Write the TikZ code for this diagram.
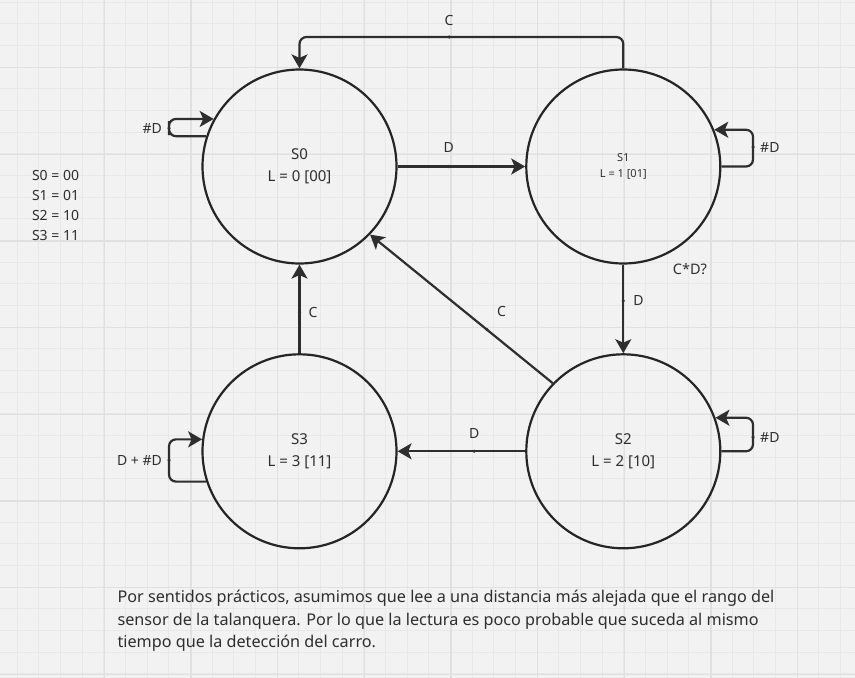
\documentclass[tikz,border=0pt]{standalone}
\usepackage{fontspec}
\setmainfont{Noto Sans}
\usetikzlibrary{positioning,arrows.meta}
\definecolor{ink}{HTML}{2E2E2E}
\definecolor{paper}{HTML}{F2F2F2}
\definecolor{gridlo}{HTML}{E8E8E8}
\definecolor{gridhi}{HTML}{E0E0E0}
\begin{document}
\begin{tikzpicture}[x=1pt,y=-1pt]
				\tikzstyle{every node}=[text=ink, font=\fontsize{14}{18}\selectfont]
				\tikzstyle{state}=[circle, draw=ink!80!black, line width=2.2pt, minimum size=194pt, inner sep=0pt, align=center, 
				font=\fontsize{15}{21.7}\selectfont]
				\tikzstyle{edge}=[draw=ink, line width=2.2pt, rounded corners=7pt, 
				-{Stealth[length=14pt,width=16pt,inset=3.5pt]}]
				\tikzstyle{pt}=[circle, fill=ink, inner sep=0pt, minimum size=3.5pt]
				\tikzstyle{lbl}=[inner sep=1pt]
				\clip (0,0) rectangle (855,678);
				\fill[paper] (0,0) rectangle (855,678);
				\foreach \i in {0,...,39} \draw[gridlo, line width=1pt] ({17.3+21.667*\i},0) -- ++(0,678);
				\foreach \j in {0,...,31} \draw[gridlo, line width=1pt] (0,{2.3+21.667*\j}) -- ++(855,0);
				\foreach \i in {0,...,9} \draw[gridhi, line width=1.3pt] ({104.3+86.667*\i},0) -- ++(0,678);
				\foreach \j in {0,...,7} \draw[gridhi, line width=1.3pt] (0,{67.7+86.667*\j}) -- ++(855,0);
				\node[state] (s0) at (299.5,166.5) {S0\\L = 0 [00]};
				\node[state, font=\fontsize{11}{15.3}\selectfont] (s1) at (623.3,166.5) {S1\\L = 1 [01]};
				\node[state] (s2) at (623.3,451.3) {S2\\L = 2 [10]};
				\node[state] (s3) at (299.5,451.3) {S3\\L = 3 [11]};
				\coordinate (c10) at (449,37); 
				\coordinate (l0) at (169,128); 
				\coordinate (l1) at (753,147); 
				\coordinate (l2) at (753,437); 
				\coordinate (l3) at (169,460); 
				\draw[edge] (s1.north) |- (c10) -| (s0.north);
				\draw[edge] (s0) -- node[pt, pos=.4] (d01) {} (s1);
				\draw[edge] (s1) -- node[pt, pos=.41] (d12) {} (s2);
				\draw[edge] (s2) -- node[pt, pos=.4] (d23) {} (s3);
				\draw[edge] (s3) -- node[pt, pos=.46] (d30) {} (s0);
				\draw[edge] (s2.136) -- node[pt, pos=.36] (d20) {} (s0.-44);
				\draw[edge] (s0.162) -| (l0) |- (s0.151);
				\draw[edge] (s1.east) -| (l1) |- (s1.22);
				\draw[edge] (s2.east) -| (l2) |- (s2.20);
				\draw[edge] (s3.198) -| (l3) |- (s3.173);
				\foreach \p in {c10,l0,l1,l2,l3} \node[pt] at (\p) {};
				\node[lbl, above=10pt of c10] {C};
				\node[lbl, above=10pt of d01] {D};
				\node[lbl, right=6pt of d12] {D};
				\node[lbl, above=9pt of d23] {D};
				\node[lbl, right=5pt of d30] {C};
				\node[lbl, above right=10pt and 7pt of d20] {C};
				\node[lbl, left=6pt of l0] {\#D};
				\node[lbl, right=6pt of l1] {\#D};
				\node[lbl, right=6pt of l2] {\#D};
				\node[lbl, left=6pt of l3] {D + \#D};
				\node[font=\fontsize{14.5}{18}\selectfont] (cd) at (690,269) {C*D?};
				\node[anchor=west, align=left, font=\fontsize{14}{19.7}\selectfont] (codes) at (28.5,205.5) 
				{S0 = 00\\S1 = 01\\S2 = 10\\S3 = 11};
				\node[anchor=west, align=left, font=\fontsize{16.2}{22.5}\selectfont] (note) at (114,621) 
				{Por sentidos prácticos, asumimos que lee a una distancia más alejada que el rango del\\
				sensor de la talanquera. Por lo que la lectura es poco probable que suceda al mismo\\
				tiempo que la detección del carro.};
\end{tikzpicture}
\end{document}
